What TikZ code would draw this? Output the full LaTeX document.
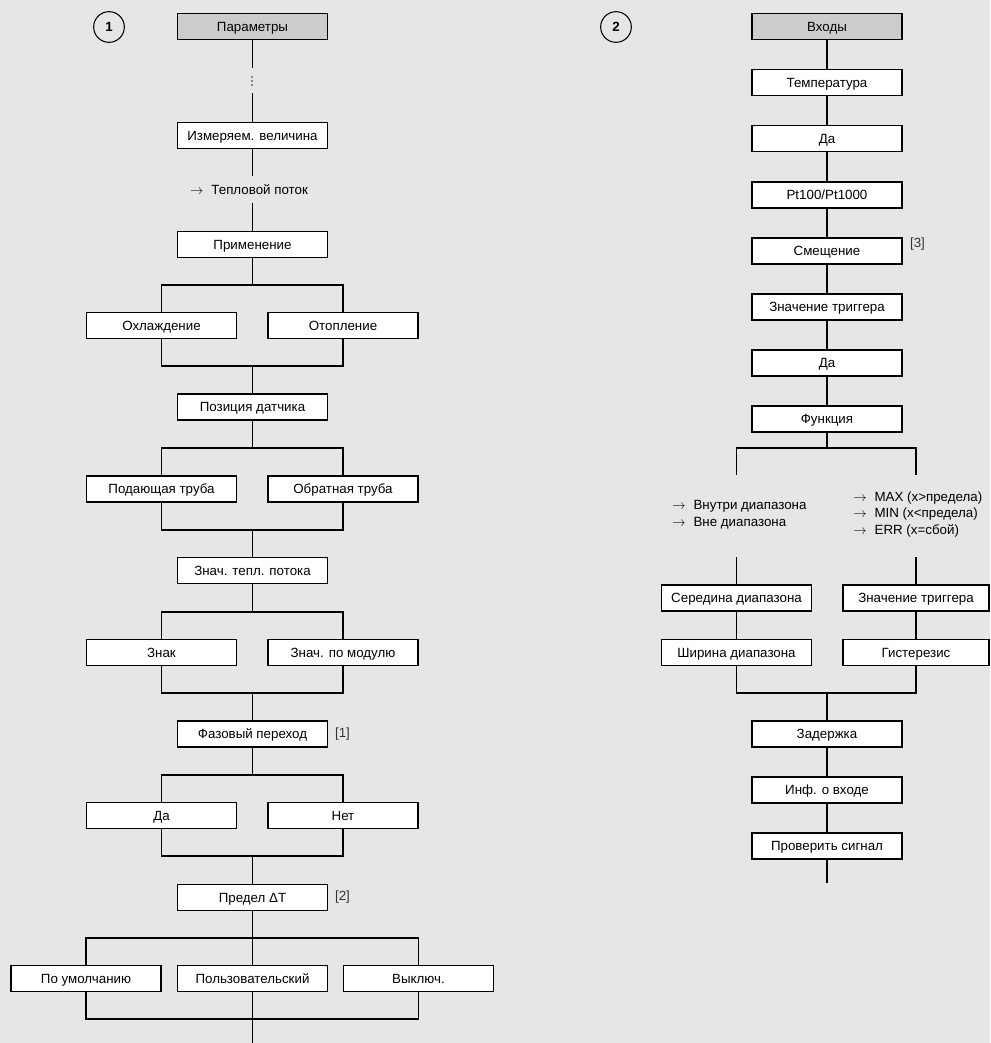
\documentclass[tikz,border=0pt]{standalone}
\usepackage{fontspec}
\setmainfont{Liberation Sans}
\usepackage{tikz}
\usetikzlibrary{calc, positioning}
\definecolor{Fondo}{RGB}{230,230,230}
\definecolor{Cabeza}{RGB}{204,204,204}
\newcommand{\optarrow}{$\rightarrow$\hspace{6pt}}

\begin{document}
\begin{tikzpicture}[x=0.75pt, y=-0.75pt,
    box/.style={
        rectangle, draw=black, line width=1.25pt, fill=white,
        minimum width=112.5pt, minimum height=19.5pt, inner sep=2pt,
        text height=8.2pt, text depth=1pt,
        font=\fontsize{10}{12}\selectfont},
    head/.style={box, fill=Cabeza},
    num/.style={circle, draw=black, line width=0.8pt, minimum size=23pt,
        inner sep=0pt, font=\bfseries\fontsize{10}{12}\selectfont},
    opt/.style={font=\fontsize{10}{12.4}\selectfont, align=left, inner sep=0pt},
    ref/.style={font=\fontsize{10}{12}\selectfont, text=black!80},
    lin/.style={line width=1.2pt}]
  % Fondo
  \fill[Fondo] (0,0) rectangle (990,1043);
  \useasboundingbox (0,0) rectangle (990,1043);

  % Columna 1: nodos
  \node[num] (n1) at (109,27) {1};
  \node[head] (param) at (252.5,26.5) {Параметры};
  \node[box] (meas) at (252.5,135.5) {Измеряем. величина};
  \node[opt, minimum height=19.5pt] (flow) at (249,189.5) {\optarrow Тепловой поток};
  \node[box] (app) at (252.5,244.5) {Применение};
  \node[box] (cool) at (161.5,325.5) {Охлаждение};
  \node[box] (heat) at (343,325.5) {Отопление};
  \node[box] (pos) at (252.5,407) {Позиция датчика};
  \node[box] (supply) at (161.5,489) {Подающая труба};
  \node[box] (return) at (343,489) {Обратная труба};
  \node[box] (val) at (252.5,570.5) {Знач. тепл. потока};
  \node[box] (sign) at (161.5,652.5) {Знак};
  \node[box] (abs) at (343,652.5) {Знач. по модулю};
  \node[box] (phase) at (252.5,734) {Фазовый переход};
  \node[ref] (r1) at (342.5,734) {[1]};
  \node[box] (yesL) at (161.5,815.5) {Да};
  \node[box] (noL) at (343,815.5) {Нет};
  \node[box] (lim) at (252.5,897.5) {Предел ΔT};
  \node[ref] (r2) at (342.5,897.5) {[2]};
  \node[box] (def) at (86,978.5) {По умолчанию};
  \node[box] (user) at (252.5,978.5) {Пользовательский};
  \node[box] (off) at (418.5,978.5) {Выключ.};

  % Columna 1: puntos de bifurcación
  \coordinate (d1) at (252.5,68);
  \coordinate (d2) at (252.5,93);
  \coordinate (f1) at (252.5,285);
  \coordinate (j1) at (252.5,366);
  \coordinate (f2) at (252.5,448);
  \coordinate (j2) at (252.5,530);
  \coordinate (f3) at (252.5,612);
  \coordinate (j3) at (252.5,693);
  \coordinate (f4) at (252.5,775);
  \coordinate (j4) at (252.5,856);
  \coordinate (f5) at (252.5,938);
  \coordinate (j5) at (252.5,1019);
  \coordinate (endL) at (252.5,1043);

  % Columna 1: líneas
  \draw[lin] (param.south) -- (d1);
  \fill[black!60] (252,77) circle (1.1) (252,81) circle (1.1) (252,85) circle (1.1);
  \draw[lin] (d2) -- (meas.north);
  \draw[lin] (meas.south) -- (meas.south |- flow.north);
  \draw[lin] (app.north |- flow.south) -- (app.north);
  \draw[lin] (app.south) -- (f1);
  \draw[lin] (cool.north) |- (f1) -| (heat.north);
  \draw[lin] (cool.south) |- (j1) -| (heat.south);
  \draw[lin] (j1) -- (pos.north);
  \draw[lin] (pos.south) -- (f2);
  \draw[lin] (supply.north) |- (f2) -| (return.north);
  \draw[lin] (supply.south) |- (j2) -| (return.south);
  \draw[lin] (j2) -- (val.north);
  \draw[lin] (val.south) -- (f3);
  \draw[lin] (sign.north) |- (f3) -| (abs.north);
  \draw[lin] (sign.south) |- (j3) -| (abs.south);
  \draw[lin] (j3) -- (phase.north);
  \draw[lin] (phase.south) -- (f4);
  \draw[lin] (yesL.north) |- (f4) -| (noL.north);
  \draw[lin] (yesL.south) |- (j4) -| (noL.south);
  \draw[lin] (j4) -- (lim.north);
  \draw[lin] (lim.south) -- (user.north);
  \draw[lin] (def.north) |- (f5) -| (off.north);
  \draw[lin] (def.south) |- (j5) -| (off.south);
  \draw[lin] (user.south) -- (endL);

  % Columna 2: nodos
  \node[num] (n2) at (616,27) {2};
  \node[head] (inp) at (827,26.5) {Входы};
  \node[box, below=21.3pt of inp] (temp) {Температура};
  \node[box, below=21.3pt of temp] (yes1) {Да};
  \node[box, below=21.3pt of yes1] (pt) {Pt100/Pt1000};
  \node[box, below=21.3pt of pt] (offs) {Смещение};
  \node[ref] (r3) at (917.5,244.5) {[3]};
  \node[box, below=21.3pt of offs] (trig) {Значение триггера};
  \node[box, below=21.3pt of trig] (yes2) {Да};
  \node[box, below=21.3pt of yes2] (func) {Функция};
  \node[opt, anchor=west] (listL) at (672,515)
    {\optarrow Внутри диапазона\\\optarrow Вне диапазона};
  \node[opt, anchor=west] (listR) at (853,514.5)
    {\optarrow MAX (x>предела)\\\optarrow MIN (x<предела)\\\optarrow ERR (x=сбой)};
  \node[box] (mid) at (736.5,598) {Середина диапазона};
  \node[box, minimum width=109.5pt] (trg2) at (916,598) {Значение триггера};
  \node[box] (wid) at (736.5,652.5) {Ширина диапазона};
  \node[box, minimum width=109.5pt] (hyst) at (916,652.5) {Гистерезис};
  \node[box] (delay) at (827,734) {Задержка};
  \node[box, below=21.3pt of delay] (info) {Инф. о входе};
  \node[box, below=21.3pt of info] (check) {Проверить сигнал};

  % Columna 2: puntos de bifurcación
  \coordinate (f6) at (827,448);
  \coordinate (inL) at (736.5,475);
  \coordinate (inR) at (916,475);
  \coordinate (outL) at (736.5,557);
  \coordinate (outR) at (916,557);
  \coordinate (j6) at (827,693);
  \coordinate (endR) at (827,883);

  % Columna 2: líneas
  \draw[lin] (inp) -- (temp);
  \draw[lin] (temp) -- (yes1);
  \draw[lin] (yes1) -- (pt);
  \draw[lin] (pt) -- (offs);
  \draw[lin] (offs) -- (trig);
  \draw[lin] (trig) -- (yes2);
  \draw[lin] (yes2) -- (func);
  \draw[lin] (func.south) -- (f6);
  \draw[lin] (inL) |- (f6) -| (inR);
  \draw[lin] (outL) -- (mid.north);
  \draw[lin] (outR) -- (trg2.north);
  \draw[lin] (mid) -- (wid);
  \draw[lin] (trg2) -- (hyst);
  \draw[lin] (wid.south) |- (j6) -| (hyst.south);
  \draw[lin] (j6) -- (delay.north);
  \draw[lin] (delay) -- (info);
  \draw[lin] (info) -- (check);
  \draw[lin] (check.south) -- (endR);
\end{tikzpicture}
\end{document}
